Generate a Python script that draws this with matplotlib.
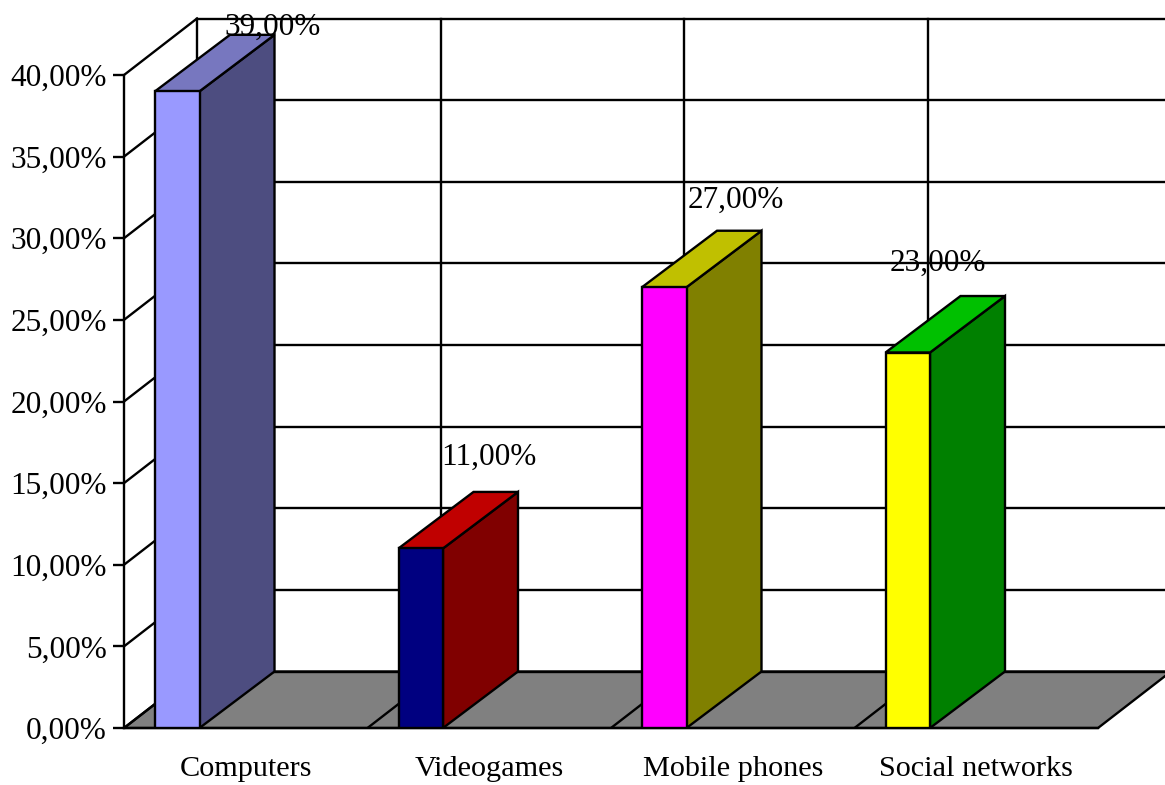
from matplotlib import pyplot as plt

categories = ["Computers", "Videogames", "Mobile phones", "Social networks"]
values = [39.0, 11.0, 27.0, 23.0]
front_colors = ["#9999FF", "#000080", "#FF00FF", "#FFFF00"]
side_colors = ["#4D4D80", "#800000", "#808000", "#008000"]
top_colors = ["#7777BF", "#C00000", "#C0C000", "#00C000"]
y_ticks = [0, 5, 10, 15, 20, 25, 30, 35, 40]

PX_PER_CAT = 243.5
PX_PER_PCT = 16.325
WALL_DX = 73 / PX_PER_CAT
WALL_DY = 56.5 / PX_PER_PCT
BAR_DX = 75 / PX_PER_CAT
BAR_OFFSET = 31 / PX_PER_CAT
BAR_WIDTH = 44.5 / PX_PER_CAT
LW = 1.7
# label position relative to the bar's front top left corner, in pixels
LABEL_OFFSETS = [(118, 64), (90, 91), (94, 87), (52, 89)]


def pct(v):
    return f"{v:.2f}".replace(".", ",") + "%"


plt.rcParams["font.family"] = "Liberation Serif"
plt.rcParams["font.size"] = 22.5

fig = plt.figure(figsize=(11.65, 7.85), dpi=100)
ax = fig.add_axes([124 / 1165, 57 / 785, 1041 / 1165, 728 / 785])
ax.set_xlim(0, 1041 / PX_PER_CAT)
ax.set_ylim(0, 728 / PX_PER_PCT)

for side in ["top", "right"]:
    ax.spines[side].set_visible(False)
ax.spines["left"].set_bounds(0, 40)
ax.spines["bottom"].set_bounds(0, 4)
ax.spines["left"].set_linewidth(LW)
ax.spines["bottom"].set_linewidth(LW)

ax.set_yticks(y_ticks)
ax.set_yticklabels([pct(v) for v in y_ticks])
ax.tick_params(axis="y", length=8, width=LW, pad=4.3)
ax.set_xticks([i + 0.5 for i in range(len(categories))])
ax.set_xticklabels(categories, fontsize=21.8)
ax.tick_params(axis="x", length=0, pad=20)

# floor
ax.fill([0, WALL_DX, 4 + WALL_DX, 4], [0, WALL_DY, WALL_DY, 0],
        facecolor="#808080", edgecolor="black", lw=LW, zorder=1, clip_on=False)
for i in range(1, 4):
    ax.plot([i, i + WALL_DX], [0, WALL_DY], color="black", lw=LW, zorder=1.5)

# back wall and left wall grid
for v in y_ticks:
    ax.plot([0, WALL_DX], [v, v + WALL_DY], color="black", lw=LW, zorder=1.5)
    ax.plot([WALL_DX, 4 + WALL_DX], [v + WALL_DY, v + WALL_DY], color="black", lw=LW, zorder=1.5)
for i in range(5):
    ax.plot([i + WALL_DX, i + WALL_DX], [WALL_DY, 40 + WALL_DY], color="black", lw=LW, zorder=1.5)

# bars
for i, v in enumerate(values):
    x0 = i + BAR_OFFSET
    x1 = x0 + BAR_WIDTH
    ax.fill([x1, x1 + BAR_DX, x1 + BAR_DX, x1], [0, WALL_DY, v + WALL_DY, v],
            facecolor=side_colors[i], edgecolor="black", lw=LW, zorder=3)
    ax.fill([x0, x1, x1 + BAR_DX, x0 + BAR_DX], [v, v, v + WALL_DY, v + WALL_DY],
            facecolor=top_colors[i], edgecolor="black", lw=LW, zorder=3)
    ax.fill([x0, x1, x1, x0], [0, 0, v, v],
            facecolor=front_colors[i], edgecolor="black", lw=LW, zorder=3.5)
    dx, dy = LABEL_OFFSETS[i]
    ax.annotate(pct(v), xy=(x0, v), xytext=(dx * 0.72, dy * 0.72), textcoords="offset points",
                ha="center", va="center", zorder=5, annotation_clip=False)

fig.savefig("out.png", dpi=100)
